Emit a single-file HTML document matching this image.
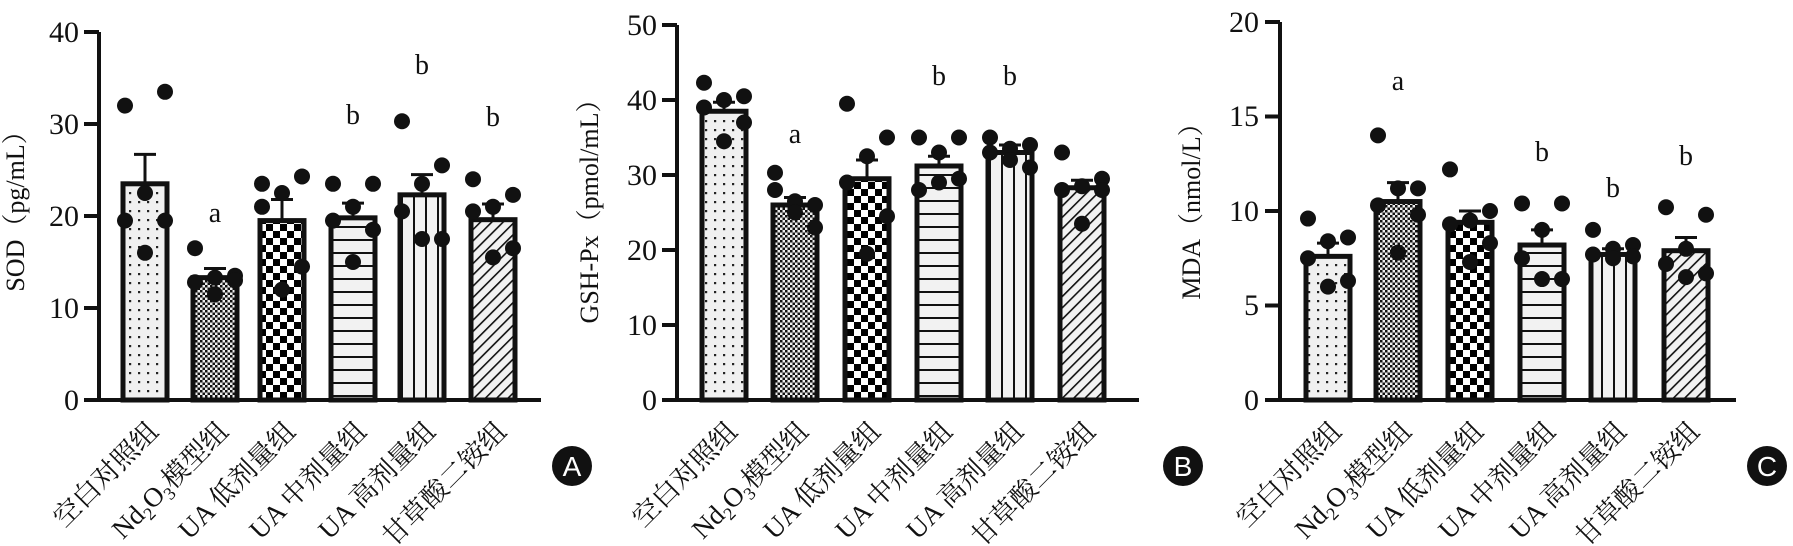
<!DOCTYPE html>
<html><head><meta charset="utf-8"><style>
html,body{margin:0;padding:0;background:#fff;}
svg{display:block;}
text{font-family:"Liberation Serif","Noto Serif CJK SC",serif;fill:#111;}
.t{font-size:30px;text-anchor:end;}
.x{font-size:27px;text-anchor:end;}
.l{font-size:28px;text-anchor:middle;}
.y{font-size:26px;text-anchor:middle;}
</style></head><body>
<svg id="s" width="1793" height="546" viewBox="0 0 1793 546" xmlns="http://www.w3.org/2000/svg">
<defs>
<pattern id="p0" width="9" height="9" patternUnits="userSpaceOnUse"><rect width="9" height="9" fill="#f0f0f0"/><rect x="3" y="3" width="2.2" height="2.2" fill="#222"/></pattern>
<pattern id="p1" width="5" height="5" patternUnits="userSpaceOnUse"><rect width="5" height="5" fill="#eee"/><rect width="2.5" height="2.5" fill="#111"/><rect x="2.5" y="2.5" width="2.5" height="2.5" fill="#111"/></pattern>
<pattern id="p2" width="14" height="14" patternUnits="userSpaceOnUse"><rect width="14" height="14" fill="#fff"/><rect width="7" height="7" fill="#000"/><rect x="7" y="7" width="7" height="7" fill="#000"/></pattern>
<pattern id="p3" width="10" height="13" patternUnits="userSpaceOnUse"><rect width="10" height="13" fill="#f2f2f2"/><rect y="5" width="10" height="2" fill="#111"/></pattern>
<pattern id="p4" width="12" height="10" patternUnits="userSpaceOnUse"><rect width="12" height="10" fill="#f2f2f2"/><rect x="5" width="2" height="10" fill="#111"/></pattern>
<pattern id="p5" width="8" height="8" patternUnits="userSpaceOnUse" patternTransform="rotate(45)"><rect width="8" height="8" fill="#f2f2f2"/><rect width="1.6" height="8" fill="#111"/></pattern>
</defs>
<g id="g"></g>

<text class="t" x="79" y="42">40</text>
<text class="t" x="79" y="134">30</text>
<text class="t" x="79" y="226">20</text>
<text class="t" x="79" y="318">10</text>
<text class="t" x="79" y="410">0</text>
<text class="y" transform="translate(24,205) rotate(-90)">SOD（pg/mL）</text>
<text class="l" x="215" y="222">a</text>
<text class="l" x="353" y="124">b</text>
<text class="l" x="422" y="74">b</text>
<text class="l" x="493" y="126">b</text>
<text class="x" transform="translate(160,433) rotate(-45)">空白对照组</text>
<text class="x" transform="translate(230,433) rotate(-45)">Nd<tspan font-size="18" dy="6">2</tspan><tspan dy="-6">O</tspan><tspan font-size="18" dy="6">3</tspan><tspan dy="-6">模型组</tspan></text>
<text class="x" transform="translate(297,433) rotate(-45)">UA 低剂量组</text>
<text class="x" transform="translate(368,433) rotate(-45)">UA 中剂量组</text>
<text class="x" transform="translate(437,433) rotate(-45)">UA 高剂量组</text>
<text class="x" transform="translate(508,433) rotate(-45)">甘草酸二铵组</text>

<text class="t" x="657" y="35">50</text>
<text class="t" x="657" y="110">40</text>
<text class="t" x="657" y="185">30</text>
<text class="t" x="657" y="260">20</text>
<text class="t" x="657" y="335">10</text>
<text class="t" x="657" y="410">0</text>
<text class="y" transform="translate(598,205) rotate(-90)">GSH-Px（pmol/mL）</text>
<text class="l" x="795" y="143">a</text>
<text class="l" x="939" y="85">b</text>
<text class="l" x="1010" y="85">b</text>
<text class="x" transform="translate(739,433) rotate(-45)">空白对照组</text>
<text class="x" transform="translate(810,433) rotate(-45)">Nd<tspan font-size="18" dy="6">2</tspan><tspan dy="-6">O</tspan><tspan font-size="18" dy="6">3</tspan><tspan dy="-6">模型组</tspan></text>
<text class="x" transform="translate(882,433) rotate(-45)">UA 低剂量组</text>
<text class="x" transform="translate(954,433) rotate(-45)">UA 中剂量组</text>
<text class="x" transform="translate(1025,433) rotate(-45)">UA 高剂量组</text>
<text class="x" transform="translate(1097,433) rotate(-45)">甘草酸二铵组</text>

<text class="t" x="1259" y="32">20</text>
<text class="t" x="1259" y="126">15</text>
<text class="t" x="1259" y="221">10</text>
<text class="t" x="1259" y="315">5</text>
<text class="t" x="1259" y="410">0</text>
<text class="y" transform="translate(1200,205) rotate(-90)">MDA（nmol/L）</text>
<text class="l" x="1398" y="90">a</text>
<text class="l" x="1542" y="161">b</text>
<text class="l" x="1613" y="197">b</text>
<text class="l" x="1686" y="165">b</text>
<text class="x" transform="translate(1343,433) rotate(-45)">空白对照组</text>
<text class="x" transform="translate(1413,433) rotate(-45)">Nd<tspan font-size="18" dy="6">2</tspan><tspan dy="-6">O</tspan><tspan font-size="18" dy="6">3</tspan><tspan dy="-6">模型组</tspan></text>
<text class="x" transform="translate(1485,433) rotate(-45)">UA 低剂量组</text>
<text class="x" transform="translate(1557,433) rotate(-45)">UA 中剂量组</text>
<text class="x" transform="translate(1628,433) rotate(-45)">UA 高剂量组</text>
<text class="x" transform="translate(1701,433) rotate(-45)">甘草酸二铵组</text>

<circle cx="572" cy="466" r="20" fill="#111"/>
<text x="572" y="476" style="font-family:'Liberation Sans',sans-serif;font-size:28px;fill:#fff;text-anchor:middle">A</text>
<circle cx="1183" cy="466" r="20" fill="#111"/>
<text x="1183" y="476" style="font-family:'Liberation Sans',sans-serif;font-size:28px;fill:#fff;text-anchor:middle">B</text>
<circle cx="1767" cy="466" r="20" fill="#111"/>
<text x="1767" y="476" style="font-family:'Liberation Sans',sans-serif;font-size:28px;fill:#fff;text-anchor:middle">C</text>
</svg>
<script>
var NS="http://www.w3.org/2000/svg",g=document.getElementById('g');
function el(n,a){var e=document.createElementNS(NS,n);for(var k in a)e.setAttribute(k,a[k]);g.appendChild(e);return e;}
var panels=[
 {ax:99,end:541,ppu:9.2,max:40,step:10,cs:[145,215,282,353,422,493],
  v:[23.5,13.3,19.5,19.8,22.3,19.6],e:[26.7,14.3,21.8,21.4,24.5,21.3],
  d:[[32,33.5,22.5,19.5,19.5,16],[16.5,13.5,13.3,12.8,13,11.5],[23.5,24.3,22.5,21,14.5,12],[23.5,23.5,21,19.5,18.5,15],[30.3,25.5,23.5,20.5,17.5,17.5],[24,22.3,21,20.5,16.5,15.5]]},
 {ax:677,end:1139,ppu:7.5,max:50,step:10,cs:[724,795,867,939,1010,1082],
  v:[38.5,26,29.5,31.2,33,28.3],e:[39.7,27,32,32.5,34,29.3],
  d:[[42.3,40.5,40,39,37,34.5],[30.3,26,26.5,28,23,25],[39.5,35,32.5,29,24.5,19.5],[35,35,33,28,29.5,29],[35,34,33.5,33,31,32],[33,29.5,28.5,28,28,23.5]]},
 {ax:1280,end:1736,ppu:18.9,max:20,step:5,cs:[1328,1398,1470,1542,1613,1686],
  v:[7.6,10.5,9.4,8.2,7.7,7.9],e:[8.3,11.5,10,9,8,8.6],
  d:[[9.6,8.6,8.4,7.5,6.3,6],[14,11.2,11.2,10.3,9.8,7.8],[12.2,10,9.5,9.3,8.3,7.3],[10.4,10.4,9,7.5,6.4,6.4],[9,8.2,8,7.7,7.6,7.5],[10.2,9.8,8,7.2,6.7,6.5]]}
];
var offs=[-20,20,0,-20,20,0];
panels.forEach(function(p){
 var y0=400;
 for(var i=0;i<6;i++){
  var cx=p.cs[i],top=y0-p.v[i]*p.ppu,et=y0-p.e[i]*p.ppu;
  el('line',{x1:cx,x2:cx,y1:top,y2:et,stroke:'#111','stroke-width':3});
  el('line',{x1:cx-11,x2:cx+11,y1:et,y2:et,stroke:'#111','stroke-width':3});
  el('rect',{x:cx-22,y:top,width:44,height:y0-top,fill:'url(#p'+i+')',stroke:'#111','stroke-width':5});
 }
 for(var i=0;i<6;i++){
  var cx=p.cs[i];
  p.d[i].forEach(function(v,j){
   el('circle',{cx:cx+offs[j],cy:y0-v*p.ppu,r:8,fill:'#111'});
  });
 }
 el('line',{x1:p.ax,x2:p.ax,y1:y0-p.max*p.ppu,y2:y0+2,stroke:'#111','stroke-width':4});
 el('line',{x1:p.ax-15,x2:p.end,y1:y0,y2:y0,stroke:'#111','stroke-width':4});
 for(var t=0;t<=p.max;t+=p.step){var y=y0-t*p.ppu;el('line',{x1:p.ax-15,x2:p.ax,y1:y,y2:y,stroke:'#111','stroke-width':4});}
});
</script>
</body></html>
